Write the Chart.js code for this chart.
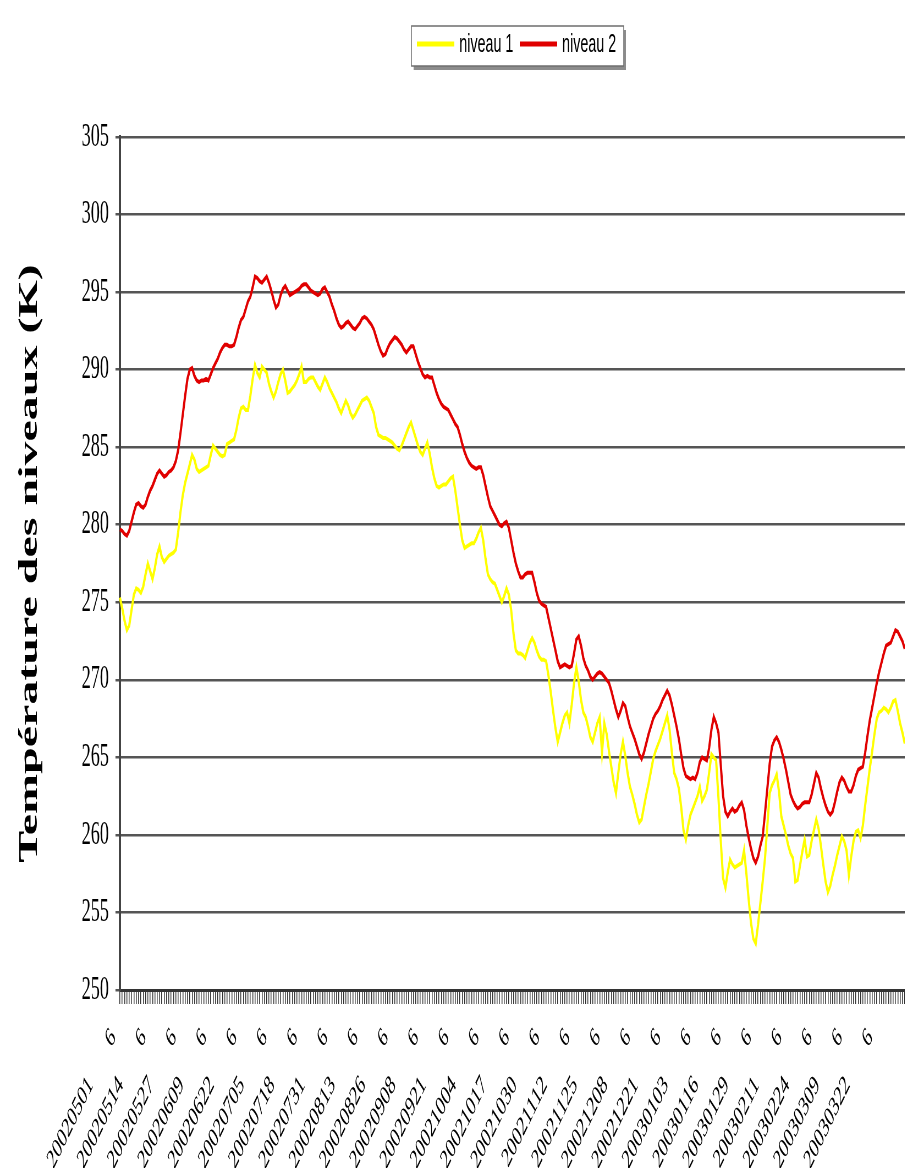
<!DOCTYPE html>
<html>
<head>
<meta charset="utf-8">
<script src="https://cdn.jsdelivr.net/npm/chart.js@4"></script>
<style>
  html, body { margin: 0; padding: 0; background: #fff; overflow: hidden; }
  /* the source picture is squeezed horizontally, so the chart is drawn wide and squeezed */
  #wrap { position: absolute; left: 0; top: 0; width: 1645px; height: 1168px; transform: scaleX(0.55); transform-origin: 0 0; }
</style>
</head>
<body>
<div id="wrap"><canvas id="niveauxChart" width="1645" height="1168"></canvas></div>
<script>
// Données : une valeur par jour (6 h), à partir du 1er mai 2002
const startDate = '2002-05-01';
const hourLabel = '6';
const labelEvery = 13;
const yMin = 250, yMax = 305, yStep = 5;

const niveau1 = [
  275.3, 274.6, 273.8, 273.2, 273.5, 274.5, 275.5, 275.9, 275.8, 275.6,
  276.0, 276.8, 277.5, 277.0, 276.5, 277.2, 278.1, 278.6, 277.9, 277.6,
  277.8, 278.0, 278.1, 278.2, 278.4, 279.5, 280.8, 281.9, 282.7, 283.3,
  283.9, 284.5, 284.2, 283.6, 283.4, 283.5, 283.6, 283.7, 283.8, 284.5,
  285.1, 284.9, 284.7, 284.5, 284.4, 284.5, 285.2, 285.3, 285.4, 285.5,
  286.1, 286.9, 287.5, 287.6, 287.4, 287.4, 288.3, 289.4, 290.3, 289.8,
  289.5, 290.2, 290.0, 289.8, 289.1, 288.6, 288.2, 288.6, 289.2, 289.7,
  290.0, 289.3, 288.5, 288.6, 288.8, 289.0, 289.3, 289.7, 290.2, 289.2,
  289.2, 289.4, 289.5, 289.5, 289.2, 288.9, 288.7, 289.1, 289.5, 289.2,
  288.8, 288.5, 288.2, 287.9, 287.5, 287.2, 287.6, 288.0, 287.7, 287.2,
  286.9, 287.1, 287.4, 287.7, 288.0, 288.1, 288.2, 288.0, 287.6, 287.2,
  286.3, 285.8, 285.7, 285.6, 285.6, 285.5, 285.4, 285.3, 285.1, 284.9,
  284.8, 285.1, 285.5, 285.9, 286.3, 286.6, 286.1, 285.6, 285.1, 284.7,
  284.5, 284.9, 285.3, 284.6, 283.7, 283.0, 282.5, 282.4, 282.5, 282.6,
  282.6, 282.8, 283.0, 283.1, 282.2, 281.1, 280.0, 279.0, 278.5, 278.6,
  278.7, 278.8, 278.8, 279.1, 279.5, 279.8, 279.0, 277.8, 276.8, 276.5,
  276.3, 276.2, 275.8, 275.4, 275.0, 275.4, 275.9, 275.5, 274.5, 273.0,
  271.9, 271.7, 271.7, 271.6, 271.4, 271.9, 272.4, 272.7, 272.4, 271.9,
  271.5, 271.3, 271.3, 271.2, 270.3, 269.2, 268.0, 266.9, 266.0, 266.6,
  267.2, 267.7, 267.9, 267.2, 268.4, 269.8, 270.8, 269.9, 268.7, 267.9,
  267.6, 267.0, 266.3, 266.0, 266.6, 267.2, 267.6, 265.3, 267.2, 266.5,
  265.4, 264.4, 263.4, 262.7, 264.0, 265.2, 266.0, 265.1, 264.0, 263.1,
  262.6, 262.0, 261.3, 260.8, 261.0, 261.8, 262.6, 263.3, 264.1, 264.9,
  265.4, 265.8, 266.2, 266.7, 267.2, 267.7, 266.8, 265.3, 264.0, 263.6,
  263.0, 261.8, 260.3, 259.7, 260.6, 261.3, 261.7, 262.1, 262.5, 263.1,
  262.2, 262.5, 262.9, 264.0, 265.2, 265.0, 264.8, 262.4, 259.6, 257.2,
  256.6, 257.6, 258.4, 258.1, 257.9, 258.0, 258.1, 258.2, 259.0, 257.5,
  255.8, 254.3, 253.3, 253.0, 254.2, 255.6, 257.0, 258.5, 260.6, 262.7,
  263.2, 263.5, 263.9, 262.8, 261.2, 260.6, 260.0, 259.3, 258.8, 258.5,
  257.0, 257.1, 258.0, 258.9, 259.7, 258.6, 258.7, 259.6, 260.3, 261.0,
  260.4, 259.3, 258.1, 257.0, 256.3, 256.7, 257.4, 258.0, 258.7, 259.3,
  259.9, 259.6, 259.0, 257.4, 258.6, 259.6, 260.2, 260.3, 259.8, 260.6,
  261.9, 263.1, 264.3, 265.4, 266.5, 267.5, 267.9, 268.0, 268.2, 268.1,
  267.9, 268.2, 268.6, 268.7, 268.0, 267.2, 266.6, 265.9
];

const niveau2 = [
  279.7, 279.6, 279.4, 279.3, 279.6, 280.2, 280.8, 281.3, 281.4, 281.2,
  281.1, 281.3, 281.8, 282.2, 282.5, 282.9, 283.3, 283.5, 283.3, 283.1,
  283.2, 283.4, 283.5, 283.7, 284.1, 284.8, 285.9, 287.1, 288.3, 289.4,
  290.0, 290.1, 289.6, 289.3, 289.2, 289.3, 289.3, 289.4, 289.3, 289.7,
  290.1, 290.4, 290.7, 291.1, 291.4, 291.6, 291.6, 291.5, 291.5, 291.6,
  292.1, 292.7, 293.2, 293.4, 293.9, 294.4, 294.7, 295.3, 296.0, 295.9,
  295.7, 295.6, 295.8, 296.0, 295.6, 295.1, 294.5, 294.0, 294.2, 294.8,
  295.2, 295.4, 295.1, 294.8, 294.9, 295.0, 295.1, 295.2, 295.4, 295.5,
  295.5, 295.3, 295.1, 295.0, 294.9, 294.8, 294.9, 295.2, 295.3, 295.0,
  294.7, 294.2, 293.8, 293.3, 292.9, 292.7, 292.8, 293.0, 293.1, 292.9,
  292.7, 292.6, 292.8, 293.0, 293.3, 293.4, 293.3, 293.1, 292.9, 292.6,
  292.1, 291.6, 291.2, 290.9, 291.0, 291.4, 291.7, 291.9, 292.1, 292.0,
  291.8, 291.6, 291.3, 291.1, 291.3, 291.5, 291.5, 291.0, 290.5, 290.1,
  289.7, 289.5, 289.6, 289.5, 289.5, 289.0, 288.5, 288.1, 287.8, 287.6,
  287.5, 287.4, 287.1, 286.8, 286.5, 286.3, 285.8, 285.2, 284.7, 284.3,
  284.0, 283.8, 283.7, 283.6, 283.7, 283.7, 283.2, 282.5, 281.8, 281.2,
  280.9, 280.6, 280.3, 280.0, 279.9, 280.1, 280.2, 279.8, 279.0, 278.2,
  277.5, 277.0, 276.6, 276.6, 276.8, 276.9, 276.9, 276.9, 276.3, 275.6,
  275.1, 274.9, 274.8, 274.7, 274.0, 273.3, 272.6, 271.9, 271.2, 270.8,
  270.9, 271.0, 270.9, 270.8, 270.9, 271.7, 272.6, 272.8, 272.2, 271.4,
  270.9, 270.6, 270.2, 270.0, 270.2, 270.4, 270.5, 270.4, 270.2, 270.0,
  269.8, 269.3, 268.7, 268.1, 267.6, 268.0, 268.5, 268.3, 267.6, 267.0,
  266.6, 266.2, 265.7, 265.2, 264.9, 265.3, 265.9, 266.5, 267.0, 267.5,
  267.8, 268.0, 268.3, 268.7, 269.0, 269.3, 269.0, 268.4, 267.7, 267.0,
  266.2, 265.2, 264.3, 263.8, 263.7, 263.6, 263.7, 263.6, 264.0, 264.7,
  265.0, 264.9, 264.8, 265.6, 266.8, 267.6, 267.2, 266.6, 264.5, 262.5,
  261.5, 261.2, 261.5, 261.7, 261.5, 261.6, 261.9, 262.1, 261.6, 260.6,
  259.8, 259.1, 258.5, 258.2, 258.6, 259.3, 259.9, 261.4, 263.0, 264.6,
  265.7, 266.1, 266.3, 266.0, 265.5, 264.9, 264.2, 263.4, 262.6, 262.2,
  261.9, 261.7, 261.8, 262.0, 262.1, 262.1, 262.1, 262.6, 263.3, 264.0,
  263.7, 263.0, 262.4, 261.9, 261.5, 261.3, 261.5, 262.1, 262.8, 263.4,
  263.7, 263.5, 263.1, 262.8, 262.8, 263.2, 263.8, 264.2, 264.3, 264.4,
  265.3, 266.4, 267.4, 268.2, 269.0, 269.8, 270.5, 271.1, 271.7, 272.2,
  272.3, 272.4, 272.8, 273.2, 273.1, 272.8, 272.5, 272.0
];

// Catégories : AAAAMMJJ + heure
const dates = [];
const t0 = new Date(startDate + 'T00:00:00Z').getTime();
for (let i = 0; i < niveau1.length; i++) {
    const d = new Date(t0 + i * 86400000).toISOString().slice(0, 10).replace(/-/g, '');
    dates.push(d + ' ' + hourLabel);
}

// Légende encadrée (style Excel)
const legendeEncadree = {
    id: 'legendeEncadree',
    afterDraw(chart) {
        const ctx = chart.ctx;
        ctx.save();
        ctx.fillStyle = '#8c8c8c';
        ctx.fillRect(752, 30, 386, 40);
        ctx.fillStyle = '#fff';
        ctx.fillRect(748, 26, 386, 40);
        ctx.strokeStyle = '#6e6e6e';
        ctx.lineWidth = 1.5;
        ctx.strokeRect(748, 26, 386, 40);
        const xs = [758, 945];
        chart.data.datasets.forEach((ds, i) => {
            const x = xs[i];
            ctx.strokeStyle = ds.borderColor;
            ctx.lineWidth = 5;
            ctx.beginPath();
            ctx.moveTo(x, 44);
            ctx.lineTo(x + 68, 44);
            ctx.stroke();
            ctx.fillStyle = '#000';
            ctx.font = '26px "Liberation Sans"';
            ctx.textBaseline = 'middle';
            ctx.fillText(ds.label, x + 77, 45);
        });
        ctx.restore();
    }
};

const ctx = document.getElementById('niveauxChart').getContext('2d');
const niveauxChart = new Chart(ctx, {
    type: 'line',
    data: {
        labels: dates,
        datasets: [{
            label: 'niveau 1',
            data: niveau1,
            borderColor: '#ffff00',
            borderWidth: 4,
            pointRadius: 0,
            tension: 0
        }, {
            label: 'niveau 2',
            data: niveau2,
            borderColor: '#e00000',
            borderWidth: 4,
            pointRadius: 0,
            tension: 0
        }]
    },
    options: {
        responsive: false,
        devicePixelRatio: 1,
        animation: false,
        layout: { padding: { top: 137, left: 0, right: 0, bottom: 0 } },
        plugins: {
            legend: { display: false },
            tooltip: { enabled: false }
        },
        scales: {
            x: {
                offset: false,
                grid: { drawOnChartArea: false, drawTicks: true, tickLength: 14, color: '#333', lineWidth: 1.5 },
                border: { display: true, color: '#333', width: 3 },
                ticks: {
                    autoSkip: false,
                    minRotation: 49,
                    maxRotation: 49,
                    padding: 18,
                    labelOffset: -12,
                    color: '#000',
                    font: { family: 'Liberation Serif', size: 28 },
                    callback: function (value, index) {
                        return index % labelEvery === 0 ? this.getLabelForValue(value).replace(' ', '       ') : '';
                    }
                },
                afterFit: (scale) => { scale.height = 178; scale.paddingLeft = 0; scale.paddingRight = 0; }
            },
            y: {
                min: yMin,
                max: yMax,
                ticks: {
                    stepSize: yStep,
                    color: '#000',
                    padding: 12,
                    font: { family: 'Liberation Serif', size: 33 }
                },
                grid: { color: '#555', lineWidth: 2.5, tickLength: 8 },
                border: { display: true, color: '#444', width: 4 },
                title: {
                    display: true,
                    text: 'Température des niveaux (K)',
                    color: '#000',
                    font: { family: 'Liberation Serif', size: 48, weight: 'bold' },
                    padding: { top: 26, bottom: 0 }
                },
                afterFit: (scale) => { scale.width = 218; }
            }
        }
    },
    plugins: [legendeEncadree]
});
</script>
</body>
</html>
